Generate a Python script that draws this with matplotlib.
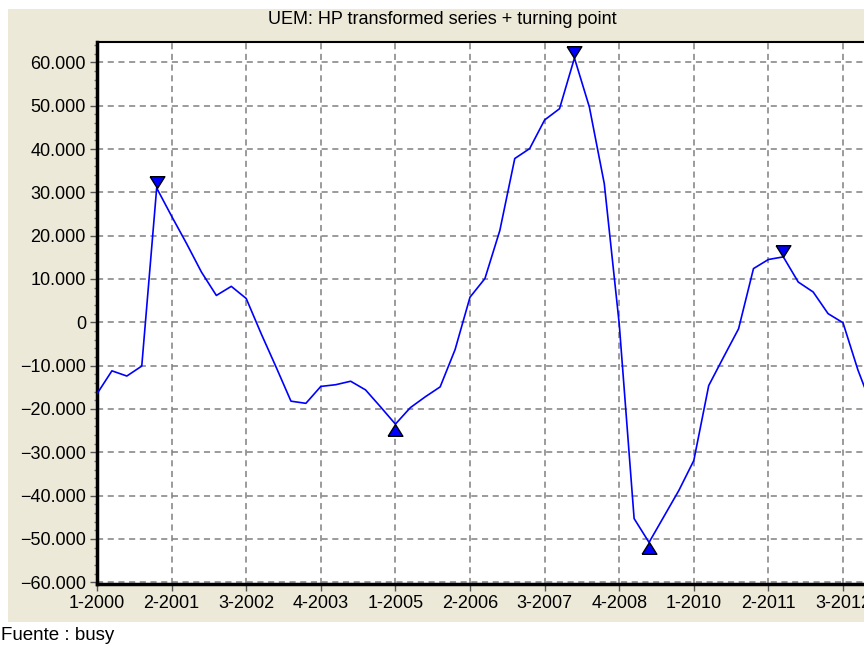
import numpy as np
import matplotlib
matplotlib.use("Agg")
import matplotlib.pyplot as plt
from matplotlib.patches import Rectangle
from matplotlib.ticker import FuncFormatter, MultipleLocator

plt.rcParams['font.family'] = ['Liberation Sans', 'DejaVu Sans']

# quarterly HP transformed series, 2000Q1 onwards
values = [-16500, -11200, -12400, -10100, 31000, 24500, 18200, 11600, 6200, 8300,
          5500, -2600, -10300, -18200, -18700, -14800, -14400, -13600, -15600, -19500,
          -23500, -19700, -17200, -14900, -6300, 5800, 10100, 21200, 37800, 40100,
          46700, 49300, 61000, 49700, 32000, -300, -45300, -50800, -44800, -38800,
          -31900, -14600, -8000, -1500, 12400, 14500, 15100, 9300, 7000, 2000,
          -100, -11000, -20000]
peaks = [4, 32, 46]
troughs = [20, 37]
tick_labels = ['1-2000', '2-2001', '3-2002', '4-2003', '1-2005', '2-2006',
               '3-2007', '4-2008', '1-2010', '2-2011', '3-2012']

x = np.arange(len(values))
y = np.array(values)

fig = plt.figure(figsize=(8.64, 6.45), dpi=100, facecolor='white')
fig.add_artist(Rectangle((8/864, 23/645), 1, 613/645, transform=fig.transFigure,
                         facecolor='#ECE9D8', edgecolor='none', zorder=0))

ax = fig.add_axes([97/864, 61/645, 55*14.92/864, 542/645])
ax.set_facecolor('white')
ax.set_xlim(0, 55)
ax.set_ylim(-60400, 64700)

ax.plot(x, y, color='#0000FF', lw=1.2, zorder=3)

down = [(-1, 1.6), (1, 1.6), (0, 0), (-1, 1.6)]
up = [(-1, -1.6), (1, -1.6), (0, 0), (-1, -1.6)]
ax.plot(x[peaks], y[peaks], ls='none', marker=down, ms=17, mfc='#0000FF',
        mec='black', mew=1.0, zorder=4, clip_on=False)
ax.plot(x[troughs], y[troughs], ls='none', marker=up, ms=17, mfc='#0000FF',
        mec='black', mew=1.0, zorder=4, clip_on=False)

ax.set_xticks(np.arange(0, 5*len(tick_labels), 5))
ax.set_xticklabels(tick_labels)
ax.yaxis.set_major_locator(MultipleLocator(10000))
ax.yaxis.set_minor_locator(MultipleLocator(2000))


def fmt(v, pos):
    s = f"{abs(v):,.0f}".replace(',', '.')
    return ('\u2212' + s) if v < 0 else s


ax.yaxis.set_major_formatter(FuncFormatter(fmt))

ax.grid(True, which='major', color='#808080', linestyle=(0, (4, 3)), linewidth=1.1)
ax.set_axisbelow(True)

ax.spines['right'].set_visible(False)
ax.spines['top'].set_linewidth(1.5)
ax.spines['left'].set_linewidth(2.5)
ax.spines['bottom'].set_linewidth(2.5)

ax.tick_params(axis='both', which='major', direction='out', length=5, width=1,
               color='#555555', labelsize=13, labelcolor='black')
ax.tick_params(axis='y', which='major', pad=3)
ax.tick_params(axis='x', which='major', pad=3)
ax.tick_params(axis='y', which='minor', direction='out', length=2, width=1, color='#777777')

fig.text(442/864, 1 - 20/645, 'UEM: HP transformed series + turning point',
         ha='center', va='center', fontsize=13)
fig.text(1/864, 1 - 636/645, 'Fuente : busy', ha='left', va='center', fontsize=13.5)

fig.savefig('out.png', dpi=100, facecolor='white')
